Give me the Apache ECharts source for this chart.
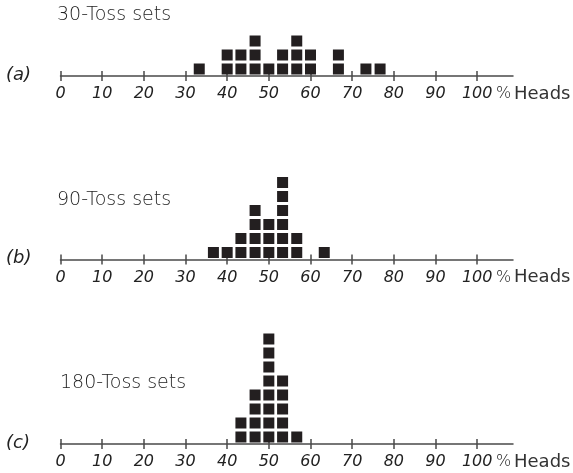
<!DOCTYPE html>
<html><head><meta charset="utf-8">
<script src="https://cdn.jsdelivr.net/npm/echarts@6/dist/echarts.min.js"></script>
<style>html,body{margin:0;padding:0;background:#fff}#c{width:573px;height:473px}</style>
</head><body><div id="c"></div>
<script>
// Data (percent heads of each set; count of sets at that value)
const tickValues = [0, 10, 20, 30, 40, 50, 60, 70, 80, 90, 100];
const panelTitles = ['30-Toss sets', '90-Toss sets', '180-Toss sets'];
const panelLabels = ['(a)', '(b)', '(c)'];
const posA = [33.3, 40, 43.3, 46.7, 50, 53.3, 56.7, 60, 66.7, 73.3, 76.7];
const cntA = [1, 2, 2, 3, 1, 2, 3, 2, 2, 1, 1];
const posB = [36.7, 40, 43.3, 46.7, 50, 53.3, 56.7, 63.3];
const cntB = [1, 1, 2, 4, 3, 6, 2, 1];
const posC = [43.3, 46.7, 50, 53.3, 56.7];
const cntC = [2, 4, 8, 5, 1];

function stackPoints(pos, cnt) {
  const pts = [];
  pos.forEach((p, i) => { for (let k = 0; k < cnt[i]; k++) pts.push([p, k + 0.5]); });
  return pts;
}
const panels = [[posA, cntA], [posB, cntB], [posC, cntC]];
const axisYs = [76, 259.5, 444];
const rows = [5, 7, 9];
const UNIT = 14;
const H = 473;
const numFont = '"DejaVu Sans"';
const textColor = '#222';
const lineColor = '#4a4a4a';

const grid = [], xAxis = [], yAxis = [], series = [], graphic = [], title = [];
panels.forEach((pc, i) => {
  grid.push({ left: 60.5, width: 452.5, bottom: H - axisYs[i], height: UNIT * rows[i] });
  xAxis.push({
    gridIndex: i, type: 'value', min: 0, max: 108.6,
    axisLine: { lineStyle: { color: lineColor, width: 1.5 } },
    axisTick: { length: 5, customValues: tickValues, lineStyle: { color: lineColor, width: 1.5 } },
    axisLabel: { customValues: tickValues, margin: 10, fontFamily: numFont, fontStyle: 'italic', fontWeight: 200, fontSize: 16, color: textColor },
    splitLine: { show: false }
  });
  xAxis.push({
    gridIndex: i, type: 'value', min: 0, max: 108.6, position: 'bottom',
    axisLine: { show: false },
    axisTick: { inside: true, length: 5, customValues: tickValues, lineStyle: { color: lineColor, width: 1.5 } },
    axisLabel: { show: false }, splitLine: { show: false }
  });
  yAxis.push({ gridIndex: i, type: 'value', min: 0, max: rows[i], show: false, splitLine: { show: false } });
  series.push({
    type: 'scatter', xAxisIndex: 2 * i, yAxisIndex: i,
    symbol: 'rect', symbolSize: 11,
    itemStyle: { color: '#231f20', opacity: 1 },
    data: stackPoints(pc[0], pc[1]), silent: true
  });
  graphic.push({ type: 'text', left: 6, top: axisYs[i] - 10,
    style: { text: panelLabels[i], font: 'italic 200 18px "DejaVu Sans"', fill: textColor } });
  graphic.push({ type: 'text', left: 496, top: axisYs[i] + 10,
    style: { text: '%', font: '200 16px "DejaVu Sans"', fill: textColor } });
  graphic.push({ type: 'text', left: 514, top: axisYs[i] + 9,
    style: { text: 'Heads', font: '18px "DejaVu Sans"', fill: '#333' } });
});
const titleTops = [6, 191, 374];
const titleLefts = [57, 57, 60];
panelTitles.forEach((t, i) => {
  title.push({ text: t, left: titleLefts[i], top: titleTops[i], padding: 0,
    textStyle: { fontFamily: numFont, fontWeight: 200, fontSize: 19, color: textColor } });
});

const chart = echarts.init(document.getElementById('c'), null, { renderer: 'canvas' });
chart.setOption({ animation: false, backgroundColor: '#fff', title, grid, xAxis, yAxis, series, graphic });
</script></body></html>
